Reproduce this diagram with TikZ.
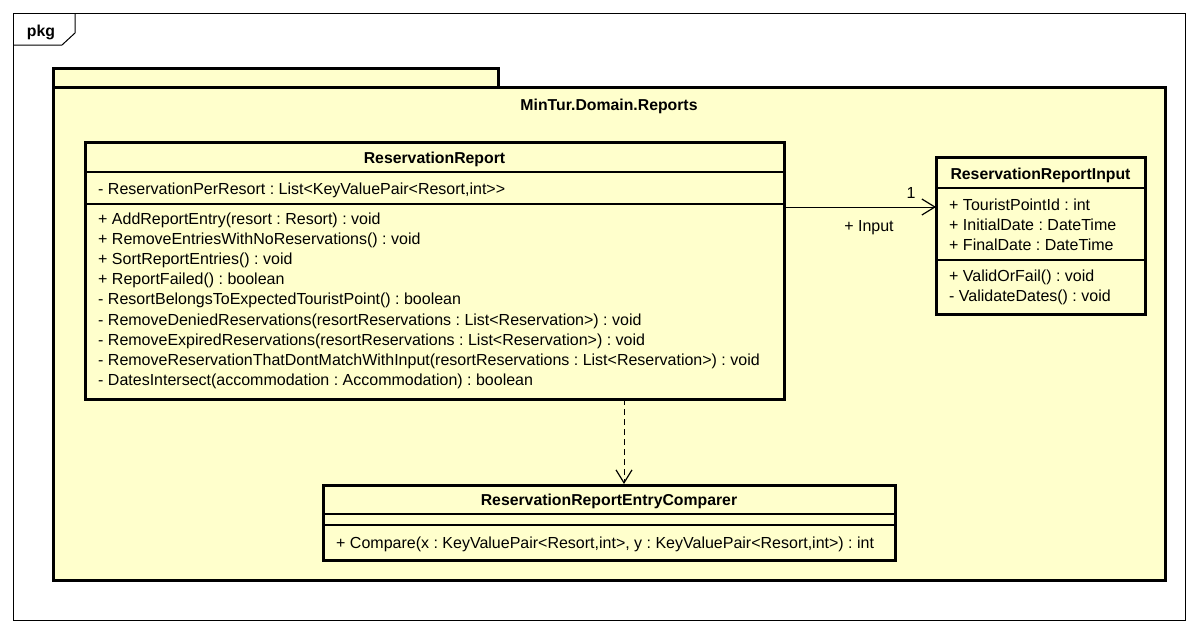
\documentclass[tikz,border=0pt]{standalone}
\usepackage{fontspec}
\setmainfont{Liberation Sans}
\usetikzlibrary{arrows.meta}
\definecolor{umlfill}{HTML}{FFFFCC}
\tikzset{
  box/.style={draw=black, line width=3pt, fill=umlfill, anchor=north west, inner sep=0pt, outer sep=0pt},
  sep/.style={line width=1.2pt},
  txt/.style={anchor=base west, inner sep=0pt, font=\fontsize{16}{18}\selectfont\frenchspacing},
  ttl/.style={anchor=base, inner sep=0pt, font=\fontsize{15.8}{18}\selectfont\bfseries},
  opentip/.style={-{Straight Barb[length=13pt,width=16pt,line width=1.2pt]}},
}
\begin{document}
\begin{tikzpicture}[x=1pt,y=-1pt]
\useasboundingbox (0,0) rectangle (1198,633);
\fill[white] (0,0) rectangle (1198,633);
% outer frame
\draw[line width=1pt] (13,13) rectangle (1185,620);
\draw[line width=1pt] (13,45) -- (62,45) -- (75,33) -- (75,13);
\node[ttl] (pkg) at (41,36.5) {pkg};
% package
\node[box, minimum width=445pt, minimum height=19pt] (ptab) at (53,68) {};
\node[box, minimum width=1112pt, minimum height=493pt] (pbody) at (53,87) {};
\node[ttl] (pname) at (609,110.5) {MinTur.Domain.Reports};
% ReservationReport
\node[box, minimum width=699pt, minimum height=257pt] (rr) at (85,142) {};
\node[ttl] (rrt) at (434.5,163.5) {ReservationReport};
\draw[sep] (85,172) -- (784,172);
\draw[sep] (85,204) -- (784,204);
\node[txt] (a1) at (98,194.5) {- ReservationPerResort : List<KeyValuePair<Resort,int>{}>};
\node[txt] (o1) at (98,224.5) {+ AddReportEntry(resort : Resort) : void};
\node[txt] (o2) at (98,244.6) {+ RemoveEntriesWithNoReservations() : void};
\node[txt] (o3) at (98,264.7) {+ SortReportEntries() : void};
\node[txt] (o4) at (98,284.8) {+ ReportFailed() : boolean};
\node[txt] (o5) at (98,304.9) {- ResortBelongsToExpectedTouristPoint() : boolean};
\node[txt] (o6) at (98,325) {- RemoveDeniedReservations(resortReservations : List<Reservation>) : void};
\node[txt] (o7) at (98,345.1) {- RemoveExpiredReservations(resortReservations : List<Reservation>) : void};
\node[txt] (o8) at (98,365.2) {- RemoveReservationThatDontMatchWithInput(resortReservations : List<Reservation>) : void};
\node[txt] (o9) at (98,385.5) {- DatesIntersect(accommodation : Accommodation) : boolean};
% ReservationReportInput
\node[box, minimum width=209pt, minimum height=157pt] (rri) at (936,157) {};
\node[ttl] (rrit) at (1040.5,179.5) {ReservationReportInput};
\draw[sep] (936,188) -- (1145,188);
\draw[sep] (936,260) -- (1145,260);
\node[txt] (b1) at (949,210.5) {+ TouristPointId : int};
\node[txt] (b2) at (949,230.5) {+ InitialDate : DateTime};
\node[txt] (b3) at (949,250.5) {+ FinalDate : DateTime};
\node[txt] (b4) at (949,281.5) {+ ValidOrFail() : void};
\node[txt] (b5) at (949,301.5) {- ValidateDates() : void};
% ReservationReportEntryComparer
\node[box, minimum width=572pt, minimum height=75pt] (rrec) at (323,485) {};
\node[ttl] (rrect) at (609,505.5) {ReservationReportEntryComparer};
\draw[sep] (323,514) -- (895,514);
\draw[sep] (323,525) -- (895,525);
\node[txt] (c1) at (336,548.5) {+ Compare(x : KeyValuePair<Resort,int>, y : KeyValuePair<Resort,int>) : int};
% association
\coordinate (as) at (rr.east |- 0,207);
\coordinate (ae) at (rri.west |- 0,207);
\draw[opentip, line width=1pt] (as) -- (ae);
\node[txt, anchor=base] (m1) at (911,198.5) {1};
\node[txt, anchor=base] (r1) at (869,231.5) {+ Input};
% dependency
\coordinate (ds) at (624,399);
\coordinate (de) at (624,484);
\draw[opentip, line width=1pt, dash pattern=on 6pt off 4pt] (ds) -- (de);
\end{tikzpicture}
\end{document}
